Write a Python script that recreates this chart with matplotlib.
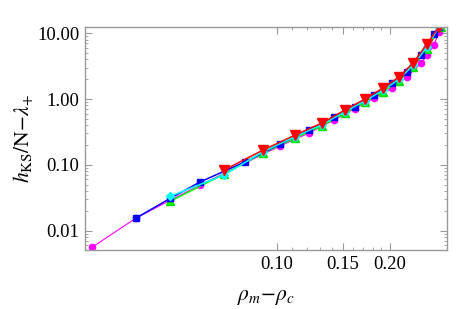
import matplotlib
matplotlib.use("Agg")
import matplotlib.pyplot as plt
from matplotlib.ticker import FixedLocator, FuncFormatter, LogLocator, NullFormatter

plt.rcParams['font.family'] = ['Liberation Serif', 'DejaVu Serif']
plt.rcParams['mathtext.fontset'] = 'stix'

# datos
x_magenta = [0.0322, 0.0421, 0.0520, 0.0623, 0.1019, 0.1217, 0.1419, 0.1614,
             0.1814, 0.2026, 0.2222, 0.2421, 0.2512, 0.2623, 0.2704]
y_magenta = [0.0056, 0.0155, 0.029, 0.049, 0.193, 0.304, 0.479, 0.716,
             1.035, 1.47, 2.16, 3.5, 4.6, 6.6, 10.5]

x_verde = [0.0520, 0.0722, 0.0918, 0.1117, 0.1318, 0.1518, 0.1717, 0.1918,
           0.2115, 0.2306, 0.2512, 0.2740]
y_verde = [0.028, 0.072, 0.151, 0.255, 0.393, 0.612, 0.90, 1.28,
           1.88, 3.07, 5.77, 12.6]

x_azul = [0.0421, 0.0520, 0.0623, 0.0822, 0.1019, 0.1217, 0.1419, 0.1614,
          0.1814, 0.2026, 0.2222, 0.2421, 0.2623, 0.2704]
y_azul = [0.0155, 0.031, 0.0546, 0.111, 0.207, 0.337, 0.532, 0.769,
          1.151, 1.75, 2.58, 4.68, 9.76, 12.5]

x_cian = [0.0520, 0.0722, 0.0918, 0.1117, 0.1318, 0.1518, 0.1717, 0.1918,
          0.2115, 0.2306, 0.2512, 0.2704]
y_cian = [0.0334, 0.0697, 0.158, 0.268, 0.41, 0.64, 0.94, 1.36,
          2.0, 3.25, 6.2, 12.5]

x_rojo = [0.0722, 0.0918, 0.1117, 0.1318, 0.1518, 0.1717, 0.1918, 0.2115,
          0.2306, 0.2512, 0.2704]
y_rojo = [0.083, 0.1675, 0.283, 0.4315, 0.681, 1.0, 1.47, 2.16,
          3.53, 6.87, 12.5]

x_ticks = [0.10, 0.15, 0.20]
x_minor = [0.11, 0.12, 0.13, 0.14, 0.16, 0.17, 0.18, 0.19]
y_ticks = [0.01, 0.1, 1.0, 10.0]

fig = plt.figure(figsize=(4.57, 3.09), dpi=100)
ax = fig.add_axes([0.186, 0.191, 0.792, 0.722])

ax.plot(x_magenta, y_magenta, '-o', color='#FF00FF', lw=0.8, ms=4.5, mec='#FF00FF')
ax.plot(x_verde, y_verde, '-^', color='#00FF00', lw=1.1, ms=6, mec='#00DD00')
ax.plot(x_azul, y_azul, '-s', color='#0000FF', lw=1.1, ms=4.5)
ax.plot(x_cian, y_cian, '-D', color='#00FFFF', lw=1.1, ms=4.5)
ax.plot(x_rojo, y_rojo, '-v', color='#FF0000', lw=1.1, ms=6.5)

ax.set_xscale('log')
ax.set_yscale('log')
ax.set_xlim(0.0308, 0.284)
ax.set_ylim(0.00508, 12.5)

ax.xaxis.set_major_locator(FixedLocator(x_ticks))
ax.xaxis.set_minor_locator(FixedLocator(x_minor))
ax.xaxis.set_major_formatter(FuncFormatter(lambda v, p: '%.2f' % v))
ax.xaxis.set_minor_formatter(NullFormatter())
ax.yaxis.set_major_locator(FixedLocator(y_ticks))
ax.yaxis.set_minor_locator(LogLocator(base=10, subs=range(2, 10)))
ax.yaxis.set_major_formatter(FuncFormatter(lambda v, p: '%.2f' % v))
ax.yaxis.set_minor_formatter(NullFormatter())

for s in ax.spines.values():
    s.set_color('#999999')
    s.set_linewidth(1.0)
ax.tick_params(which='both', direction='in', top=True, right=True,
               color='#999999', labelsize=13.5, pad=4)
ax.tick_params(which='major', length=5, width=0.8)
ax.tick_params(which='minor', length=2.5, width=0.6)

ax.set_xlabel(r'$\rho_m{-}\rho_c$', fontsize=15.5, labelpad=11)
ax.set_ylabel(r'$h_{\mathrm{KS}}/\mathrm{N}{-}\lambda_{+}$', fontsize=15.5, labelpad=1)

fig.savefig('out.png', dpi=100)
